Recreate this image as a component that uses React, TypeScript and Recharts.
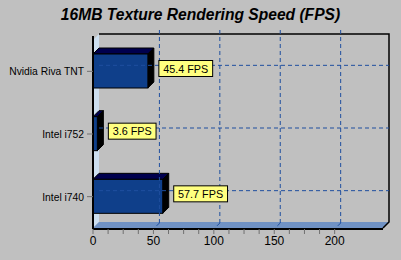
import React from "react";
import {
  Bar,
  BarChart,
  LabelList,
  ReferenceArea,
  ReferenceLine,
  XAxis,
  YAxis,
} from "recharts";

const CATEGORIES = ["Nvidia Riva TNT", "Intel i752", "Intel i740"];
const FPS = [45.4, 3.6, 57.7];
const X_TICKS = [0, 12.5, 25, 37.5, 50, 62.5, 75, 87.5, 100, 112.5, 125, 137.5, 150, 162.5, 175, 187.5, 200];
const GRID_X = [50, 100, 150, 200];
const X_MAX = 240;

const data = CATEGORIES.map((name, i) => ({ name, fps: FPS[i] }));

const DEPTH = 6;
const FONT = "'Liberation Sans', Arial, sans-serif";
const GRID_COLOR = "#1f4f9f";

// 3D walls + floor behind the plot
function Walls(props: any) {
  const { x, y, width: w, height: h } = props;
  const d = DEPTH;
  return (
    <g>
      <polygon
        points={`${x},${y} ${x + d},${y - d} ${x + d},${y + h - d} ${x},${y + h}`}
        fill="#cddff0"
      />
      <polygon
        points={`${x},${y + h} ${x + d},${y + h - d} ${x + w + d},${y + h - d} ${x + w},${y + h}`}
        fill="#7092c4"
      />
      <polyline
        points={`${x + d},${y - d} ${x + w + d},${y - d} ${x + w + d},${y + h - d} ${x + w},${y + h}`}
        fill="none"
        stroke="#000"
        strokeWidth={1.5}
      />
    </g>
  );
}

function BackGridV(props: any) {
  const { x1, y1, y2 } = props;
  const d = DEPTH;
  const top = Math.min(y1, y2);
  const bottom = Math.max(y1, y2);
  return (
    <g stroke={GRID_COLOR} strokeWidth={1} strokeDasharray="4 3">
      <line x1={x1 + d} y1={top - d} x2={x1 + d} y2={bottom - d} />
      <line x1={x1 + d} y1={bottom - d} x2={x1} y2={bottom} />
    </g>
  );
}

function BackGridH(props: any) {
  const { x1, x2, y1 } = props;
  const d = DEPTH;
  return (
    <line
      x1={Math.min(x1, x2) + d}
      y1={y1 - d}
      x2={Math.max(x1, x2) + d}
      y2={y1 - d}
      stroke={GRID_COLOR}
      strokeWidth={1}
      strokeDasharray="4 3"
    />
  );
}

function Box3D(props: any) {
  const { x, y, width: w, height: h } = props;
  const d = DEPTH;
  return (
    <g stroke="#000" strokeWidth={1}>
      <polygon
        points={`${x},${y} ${x + d},${y - d} ${x + w + d},${y - d} ${x + w},${y}`}
        fill="#00004e"
      />
      <polygon
        points={`${x + w},${y} ${x + w + d},${y - d} ${x + w + d},${y + h - d} ${x + w},${y + h}`}
        fill="#000000"
      />
      <rect x={x} y={y} width={w} height={h} fill="#0f3f8a" />
    </g>
  );
}

function FpsLabel(props: any) {
  const { x, y, width, height, value } = props;
  const text = `${value} FPS`;
  const bw = text.length * 6.1 + 5;
  const bh = 16;
  const left = x + width + 11;
  const cy = y + height / 2 - 2.5;
  return (
    <g>
      <rect x={left} y={cy - bh / 2} width={bw} height={bh} fill="#ffff80" stroke="#000" strokeWidth={1} />
      <text
        x={left + bw / 2}
        y={cy + 4}
        textAnchor="middle"
        fontFamily={FONT}
        fontSize={10.8}
        fill="#000"
      >
        {text}
      </text>
    </g>
  );
}

function CategoryTick(props: any) {
  const { x, y, payload } = props;
  return (
    <text x={x - 1} y={y + 4} textAnchor="end" fontFamily={FONT} fontSize={10.3} fill="#000">
      {payload.value}
    </text>
  );
}

export default function App() {
  return (
    <div
      style={{
        position: "absolute",
        left: 0,
        top: 0,
        width: 401,
        height: 260,
        background: "#c0c0c0",
        fontFamily: FONT,
      }}
    >
      <div
        style={{
          position: "absolute",
          left: 0,
          top: 6,
          width: 401,
          textAlign: "center",
          fontSize: 15.6,
          fontWeight: "bold",
          fontStyle: "italic",
          color: "#000",
        }}
      >
        16MB Texture Rendering Speed (FPS)
      </div>
      <div style={{ position: "absolute", left: 0, top: 0 }}>
        <BarChart
          width={401}
          height={260}
          data={data}
          layout="vertical"
          margin={{ top: 36, right: 18, bottom: 0, left: 0 }}
        >
          <XAxis
            type="number"
            domain={[0, X_MAX]}
            ticks={X_TICKS}
            interval={0}
            height={31}
            axisLine={{ stroke: "#000", strokeWidth: 2 }}
            tickLine={{ stroke: "#707070" }}
            tickSize={5}
            tick={{ fill: "#000", fontSize: 12, fontFamily: FONT }}
            tickFormatter={(v: number) => (v % 50 === 0 ? String(v) : "")}
          />
          <YAxis
            type="category"
            dataKey="name"
            width={93}
            padding={{ top: 4, bottom: 1 }}
            axisLine={{ stroke: "#000", strokeWidth: 2 }}
            tickLine={{ stroke: "#707070" }}
            tickSize={6}
            tick={<CategoryTick />}
          />
          <ReferenceArea x1={0} x2={X_MAX} shape={<Walls />} ifOverflow="visible" />
          {GRID_X.map((v) => (
            <ReferenceLine key={v} x={v} shape={<BackGridV />} />
          ))}
          {CATEGORIES.map((c) => (
            <ReferenceLine key={c} y={c} shape={<BackGridH />} />
          ))}
          <Bar dataKey="fps" barSize={34} shape={<Box3D />} isAnimationActive={false}>
            <LabelList dataKey="fps" content={<FpsLabel />} />
          </Bar>
        </BarChart>
      </div>
    </div>
  );
}
